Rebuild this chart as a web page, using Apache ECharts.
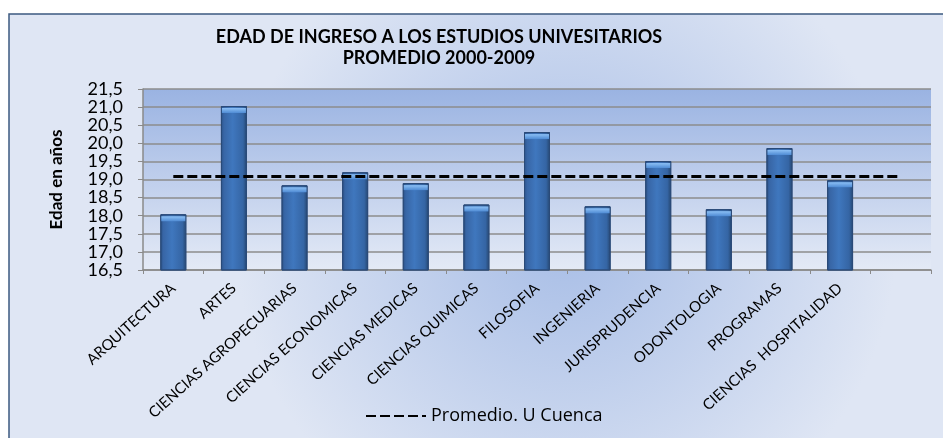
<!DOCTYPE html>
<html>
<head>
<meta charset="utf-8">
<script src="https://cdn.jsdelivr.net/npm/echarts@6/dist/echarts.min.js"></script>
<style>
  html, body { margin: 0; padding: 0; background: #fff; }
  #chart-container { width: 943px; height: 438px; }
</style>
</head>
<body>
<div id="chart-container"></div>
<script>
var dom = document.getElementById('chart-container');
var myChart = echarts.init(dom, null, { renderer: 'canvas' });

// facultades (the last slot is empty in the original chart)
var categories = ['ARQUITECTURA', 'ARTES', 'CIENCIAS AGROPECUARIAS', 'CIENCIAS ECONOMICAS',
  'CIENCIAS MEDICAS', 'CIENCIAS QUIMICAS', 'FILOSOFIA', 'INGENIERIA', 'JURISPRUDENCIA',
  'ODONTOLOGIA', 'PROGRAMAS', 'CIENCIAS  HOSPITALIDAD', ''];
// edad promedio de ingreso
var edades = [18.04, 21.03, 18.84, 19.2, 18.9, 18.31, 20.31, 18.26, 19.51, 18.18, 19.87, 18.98, null];
// promedio U Cuenca
var promedio = [19.08, 19.08, 19.08, 19.08, 19.08, 19.08, 19.08, 19.08, 19.08, 19.08, 19.08, 19.08, 19.08];
var yMin = 16.5, yMax = 21.5, yStep = 0.5;

var font = 'Lato, "Open Sans", sans-serif';

var option = {
  backgroundColor: '#fff',
  textStyle: { fontFamily: font },
  graphic: [{
    type: 'rect',
    z: -10,
    shape: { x: 9, y: 14, width: 960, height: 440 },
    style: {
      fill: new echarts.graphic.RadialGradient(0.58, 0.5, 0.75, [
        { offset: 0, color: '#a7bde6' },
        { offset: 1, color: '#dfe6f4' }
      ]),
      stroke: '#3d5a80',
      lineWidth: 1.5
    }
  }],
  title: {
    text: 'EDAD DE INGRESO A LOS ESTUDIOS UNIVESITARIOS\nPROMEDIO 2000-2009',
    left: 434,
    top: 22,
    textAlign: 'center',
    textStyle: { fontFamily: font, fontSize: 18, fontWeight: 'bold', color: '#000', lineHeight: 21 }
  },
  legend: {
    data: ['Promedio. U Cuenca'],
    left: 360,
    top: 402,
    itemWidth: 60,
    itemHeight: 14,
    itemGap: 8,
    itemStyle: { opacity: 0 },
    textStyle: { fontFamily: '"Open Sans", sans-serif', fontSize: 18, color: '#000' }
  },
  grid: {
    left: 143, right: 12, top: 89, bottom: 168,
    show: true,
    borderWidth: 0,
    backgroundColor: new echarts.graphic.LinearGradient(0, 0, 0, 1, [
      { offset: 0, color: '#9ab3e2' },
      { offset: 1, color: '#e4eaf6' }
    ])
  },
  xAxis: {
    type: 'category',
    data: categories,
    axisLine: { lineStyle: { color: '#8a8a8a', width: 1.5 } },
    axisTick: { show: true, length: 4, lineStyle: { color: '#8a8a8a' } },
    axisLabel: {
      interval: 0,
      rotate: 42,
      margin: 16,
      fontSize: 15,
      color: '#000',
      fontFamily: font
    }
  },
  yAxis: {
    type: 'value',
    min: yMin,
    max: yMax,
    interval: yStep,
    name: 'Edad en años',
    nameLocation: 'middle',
    nameGap: 78,
    nameTextStyle: { fontFamily: font, fontSize: 17, fontWeight: 'bold', color: '#000' },
    axisLine: { show: true, lineStyle: { color: '#8a8a8a', width: 1.5 } },
    axisTick: { show: true, length: 5, lineStyle: { color: '#8a8a8a' } },
    splitLine: { lineStyle: { color: '#8c8c8c', width: 1.5 } },
    axisLabel: {
      fontSize: 18,
      color: '#000',
      margin: 20,
      fontFamily: font,
      formatter: function (v) { return v.toFixed(1).replace('.', ','); }
    }
  },
  series: [
    {
      name: 'Edad',
      type: 'bar',
      data: edades,
      barWidth: 26,
      itemStyle: {
        color: new echarts.graphic.LinearGradient(0, 0, 1, 0, [
          { offset: 0, color: '#2b5187' },
          { offset: 0.12, color: '#3866a6' },
          { offset: 0.45, color: '#3f77be' },
          { offset: 0.85, color: '#3565a4' },
          { offset: 1, color: '#25466f' }
        ]),
        borderColor: '#2a4a78',
        borderWidth: 1
      },
      z: 2
    },
    {
      name: 'Tapa',
      type: 'pictorialBar',
      data: edades,
      symbol: 'rect',
      symbolSize: [24, 5],
      symbolPosition: 'end',
      symbolOffset: [0, 2],
      itemStyle: {
        color: new echarts.graphic.LinearGradient(0, 0, 0, 1, [
          { offset: 0, color: '#8cc0f5' },
          { offset: 1, color: '#4f8bd4' }
        ])
      },
      z: 3,
      silent: true
    },
    {
      name: 'Promedio. U Cuenca',
      type: 'line',
      data: promedio,
      symbol: 'none',
      lineStyle: { color: '#000', width: 3, type: [10, 4] },
      itemStyle: { color: '#000' },
      z: 5
    }
  ]
};

myChart.setOption(option);
window.addEventListener('resize', myChart.resize);
</script>
</body>
</html>
